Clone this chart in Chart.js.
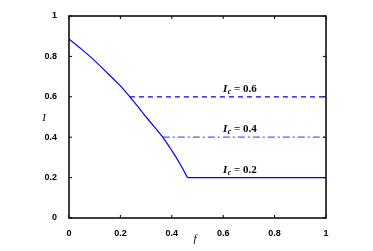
<!DOCTYPE html>
<html lang="en">
<head>
    <meta charset="UTF-8">
    <title>I versus f</title>
    <style>
        body {
            margin: 0;
            padding: 0;
            background-color: #fff;
        }
        .chart-container {
            width: 373px;
            height: 251px;
        }
    </style>
</head>
<body>

<div class="chart-container">
    <canvas id="fChart" width="373" height="251"></canvas>
</div>

<script src="https://cdn.jsdelivr.net/npm/chart.js"></script>

<script>
    // curve
    const curveF = [0, 0.043, 0.086, 0.126, 0.166, 0.203, 0.237, 0.269, 0.3, 0.333, 0.365, 0.392, 0.417, 0.44, 0.461];
    const curveI = [0.886, 0.842, 0.795, 0.747, 0.697, 0.65, 0.6, 0.55, 0.5, 0.45, 0.4, 0.35, 0.3, 0.25, 0.2];

    // flat part at Ic = 0.2, and the other Ic levels
    const flatF = [0.461, 1];
    const flatI = [0.2, 0.2];
    const levelStartF = [0.237, 0.365];
    const levelI = [0.6, 0.4];

    const labelTexts = ['0.6', '0.4', '0.2'];
    const labelF = [0.665, 0.665, 0.665];
    const labelI = [0.643, 0.445, 0.243];

    const tickValues = [0, 0.2, 0.4, 0.6, 0.8, 1];

    const toPoints = (xs, ys) => xs.map((x, i) => ({ x: x, y: ys[i] }));

    const decorPlugin = {
        id: 'decor',
        afterDraw(chart) {
            const ctx = chart.ctx;
            const a = chart.chartArea;
            const xs = chart.scales.x;
            const ys = chart.scales.y;
            ctx.save();
            // box
            ctx.strokeStyle = '#000';
            ctx.lineWidth = 1.5;
            ctx.strokeRect(a.left, a.top, a.right - a.left, a.bottom - a.top);
            // inward ticks on all sides
            ctx.lineWidth = 1;
            ctx.beginPath();
            tickValues.forEach(v => {
                const px = xs.getPixelForValue(v);
                ctx.moveTo(px, a.bottom); ctx.lineTo(px, a.bottom - 3);
                ctx.moveTo(px, a.top); ctx.lineTo(px, a.top + 3);
                const py = ys.getPixelForValue(v);
                ctx.moveTo(a.left, py); ctx.lineTo(a.left + 3, py);
                ctx.moveTo(a.right, py); ctx.lineTo(a.right - 3, py);
            });
            ctx.stroke();

            // Ic labels
            ctx.fillStyle = '#000';
            ctx.textBaseline = 'alphabetic';
            labelTexts.forEach((t, i) => {
                const cx = xs.getPixelForValue(labelF[i]);
                const cy = ys.getPixelForValue(labelI[i]) + 4;
                ctx.font = 'italic bold 11px "Liberation Serif"';
                const wI = ctx.measureText('I').width + 0.5;
                ctx.font = 'italic bold 8px "Liberation Serif"';
                const wc = ctx.measureText('c').width;
                ctx.font = 'bold 11px "Liberation Serif"';
                const rest = ' = ' + t;
                const wr = ctx.measureText(rest).width;
                let x = cx - (wI + wc + wr) / 2;
                ctx.textAlign = 'left';
                ctx.font = 'italic bold 11px "Liberation Serif"';
                ctx.fillText('I', x, cy);
                x += wI;
                ctx.font = 'italic bold 8px "Liberation Serif"';
                ctx.fillText('c', x, cy + 2);
                x += wc;
                ctx.font = 'bold 11px "Liberation Serif"';
                ctx.fillText(rest, x, cy);
            });

            // axis titles
            ctx.font = 'italic 11px "Liberation Serif"';
            ctx.textAlign = 'center';
            ctx.fillText('f', xs.getPixelForValue(0.49), 242);
            ctx.fillText('I', 44, 121);
            ctx.restore();
        }
    };

    const ctx = document.getElementById('fChart').getContext('2d');
    const fChart = new Chart(ctx, {
        type: 'scatter',
        data: {
            datasets: [
                {
                    data: toPoints(curveF, curveI),
                    borderColor: '#0000ff',
                    borderWidth: 1.2,
                    showLine: true,
                    pointRadius: 0
                },
                {
                    data: toPoints(flatF, flatI),
                    borderColor: '#0000ff',
                    borderWidth: 1.2,
                    showLine: true,
                    pointRadius: 0
                },
                {
                    data: toPoints([levelStartF[0], 1], [levelI[0], levelI[0]]),
                    borderColor: '#0000ee',
                    borderWidth: 1.2,
                    borderDash: [5, 4],
                    showLine: true,
                    pointRadius: 0
                },
                {
                    data: toPoints([levelStartF[1], 1], [levelI[1], levelI[1]]),
                    borderColor: '#5a5aff',
                    borderWidth: 1.2,
                    borderDash: [7, 3, 2, 3],
                    showLine: true,
                    pointRadius: 0
                }
            ]
        },
        options: {
            responsive: false,
            animation: false,
            layout: {
                padding: { top: 16, right: 47, left: 0, bottom: 0 }
            },
            plugins: {
                legend: { display: false },
                tooltip: { enabled: false }
            },
            scales: {
                x: {
                    type: 'linear',
                    min: 0,
                    max: 1,
                    afterFit: s => { s.height = 33; },
                    afterBuildTicks: s => { s.ticks = tickValues.map(v => ({ value: v })); },
                    grid: { display: false },
                    border: { display: false },
                    ticks: {
                        padding: 2,
                        color: '#000',
                        font: { family: 'Liberation Sans', size: 9, weight: 'bold' },
                        callback: v => String(v)
                    }
                },
                y: {
                    type: 'linear',
                    min: 0,
                    max: 1,
                    afterFit: s => { s.width = 69; },
                    afterBuildTicks: s => { s.ticks = tickValues.map(v => ({ value: v })); },
                    grid: { display: false },
                    border: { display: false },
                    ticks: {
                        padding: 4,
                        color: '#000',
                        font: { family: 'Liberation Sans', size: 9, weight: 'bold' },
                        callback: v => String(v)
                    }
                }
            }
        },
        plugins: [decorPlugin]
    });
</script>

</body>
</html>
